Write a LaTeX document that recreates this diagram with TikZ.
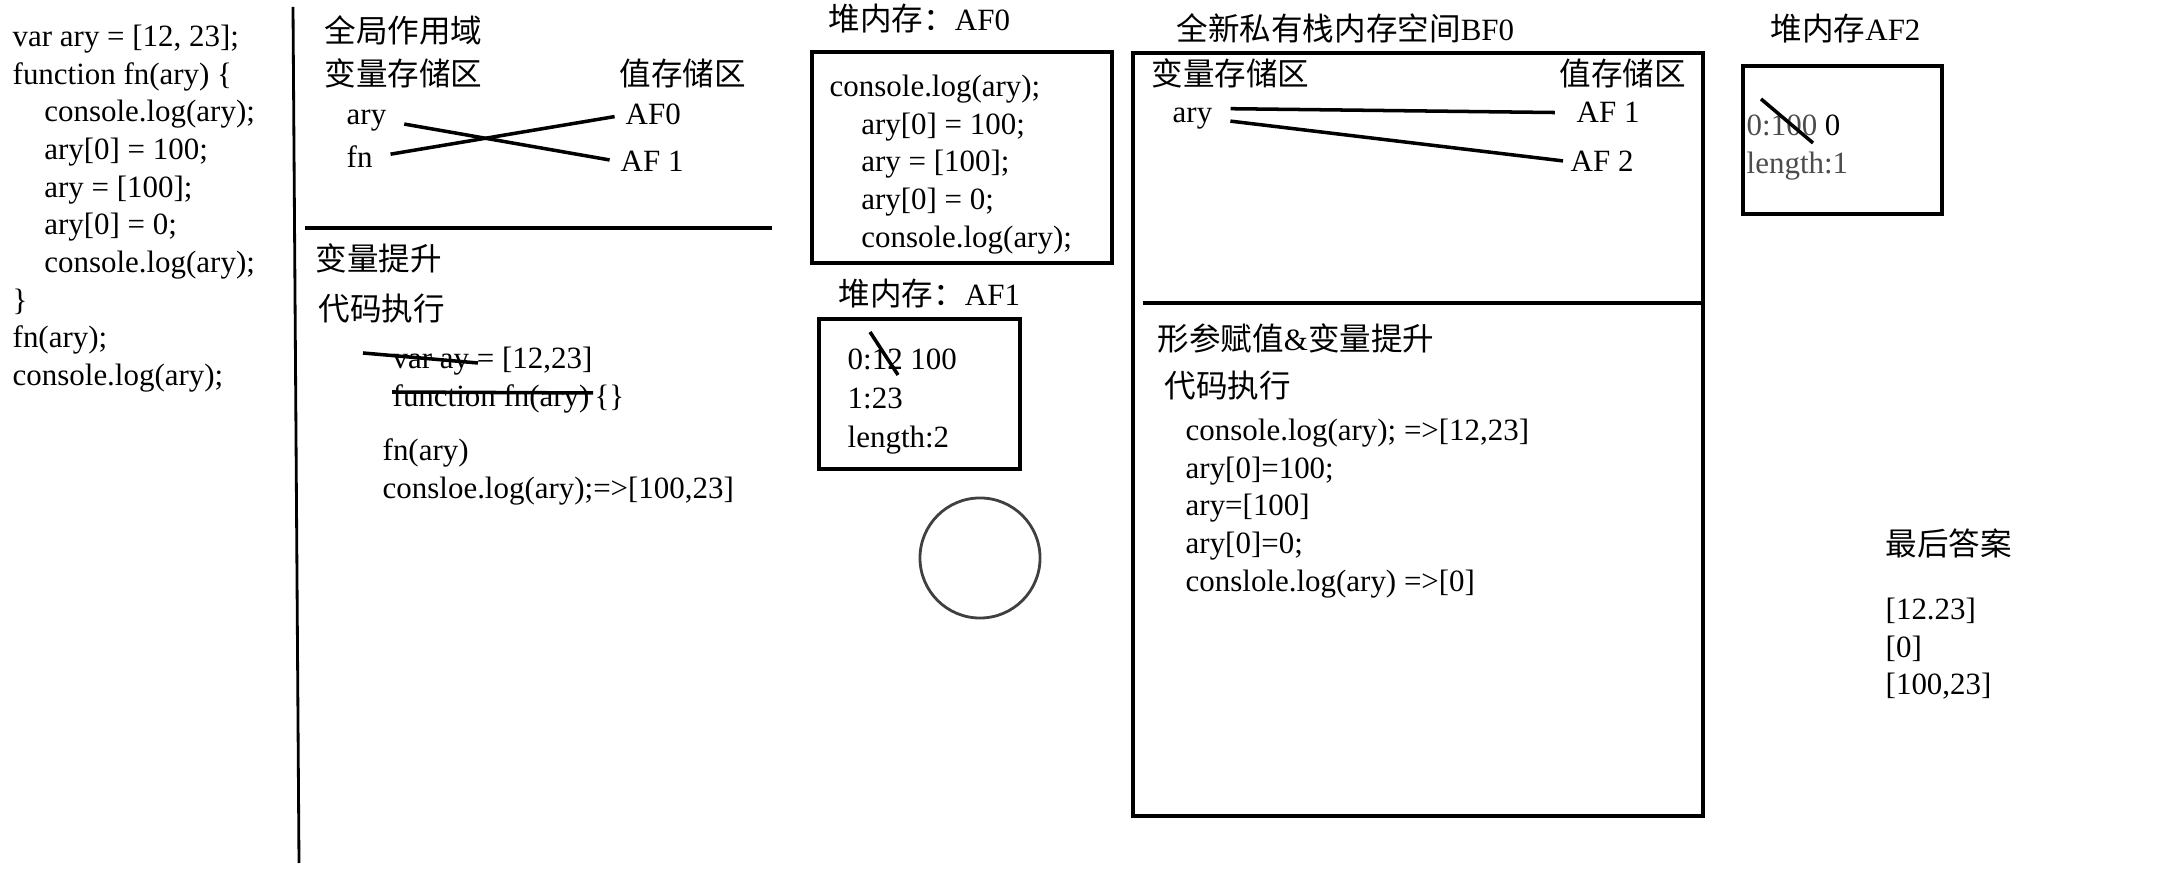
\documentclass[tikz,border=0pt]{standalone}
\usepackage{fontspec}
\setmainfont{Liberation Serif}
\newfontfamily\cjk[Scale=1.02]{Noto Sans CJK SC}
\tikzset{
  txt/.style={inner sep=0pt, anchor=base west},
  code/.style={inner sep=0pt, anchor=north west, align=left},
  box/.style={draw, line width=0.9pt},
  link/.style={line width=1pt, shorten <=5pt, shorten >=3pt},
  cross/.style={line width=1pt},
}
\newcommand{\ind}{\hspace*{9pt}}

\begin{document}
\begin{tikzpicture}[x=0.01cm, y=-0.01cm, font=\fontsize{8.8}{10.7}\selectfont]
\useasboundingbox (0,0) rectangle (2180,874);
% source code
\node[code] (src) at (12,19.7) {\strut var ary = [12, 23];\\function fn(ary) \{\\\ind console.log(ary);\\\ind ary[0] = 100;\\\ind ary = [100];\\\ind ary[0] = 0;\\\ind console.log(ary);\\\}\\fn(ary);\\console.log(ary);};
\draw[line width=0.8pt] (293,7) -- (299,863);

% global scope
\node[txt] (gscope) at (324,43) {\cjk 全局作用域};
\node[txt] (gvars) at (324,86) {\cjk 变量存储区};
\node[txt] (gvals) at (619,86) {\cjk 值存储区};
\node[txt] (gary) at (346,125) {ary};
\node[txt] (gfn) at (346,168) {fn};
\node[txt] (gaf0) at (625,125) {AF0};
\node[txt] (gaf1) at (620,172) {AF 1};
\draw[link] (gary.east) -- (gaf1.west);
\draw[link] (gfn.east) -- (gaf0.west);
\draw[line width=0.9pt] (305,228) -- (772,228);

\node[txt] (ghoist) at (315,271) {\cjk 变量提升};
\node[txt] (gexec) at (318,321) {\cjk 代码执行};
\node[code] (hoist) at (392,341.7) {\strut var ay = [12,23]\\function fn(ary)\,\{\}};
\node[code] (calls) at (382,433.7) {\strut fn(ary)\\consloe.log(ary);=>[100,23]};
\draw[cross] (363,353) -- (478,363);
\draw[cross] (392,392) -- (593,393);

% heap AF0
\node[txt] (h0title) at (828,31) {{\cjk 堆内存：}AF0};
\draw[box] (812,52) rectangle (1112,263);
\node[code] (h0code) at (829,69.7) {\strut console.log(ary);\\\ind ary[0] = 100;\\\ind ary = [100];\\\ind ary[0] = 0;\\\ind console.log(ary);};

% heap AF1
\node[txt] (h1title) at (838,306) {{\cjk 堆内存：}AF1};
\draw[box] (819,319) rectangle (1020,469);
\node[code, font=\fontsize{8.8}{11.1}\selectfont] (h1code) at (847,341.7) {\strut 0:12 100\\1:23\\length:2};
\draw[cross] (870,332) -- (898,375);
\node[draw=black!75, line width=0.8pt, circle, minimum size=1.2cm, inner sep=0pt] (orb) at (980,558) {};

% private stack BF0
\node[txt] (btitle) at (1176,41) {{\cjk 全新私有栈内存空间}BF0};
\draw[box] (1133,53) rectangle (1703,816);
\draw[box] (1143,303) -- (1703,303);
\node[txt] (bvars) at (1151,86) {\cjk 变量存储区};
\node[txt] (bvals) at (1559,86) {\cjk 值存储区};
\node[txt] (bary) at (1172,123) {ary};
\node[txt] (baf1) at (1576,123) {AF 1};
\node[txt] (baf2) at (1570,172) {AF 2};
\draw[link, shorten >=6pt] ([yshift=3pt]bary.east) -- (baf1.west);
\draw[link, shorten >=2pt] (bary.east) -- (baf2.west);
\node[txt] (bhoist) at (1157,351) {{\cjk 形参赋值}\&{\cjk 变量提升}};
\node[txt] (bexec) at (1164,398) {\cjk 代码执行};
\node[code] (bcode) at (1185,413.7) {\strut console.log(ary); =>[12,23]\\ary[0]=100;\\ary=[100]\\ary[0]=0;\\conslole.log(ary) =>[0]};

% heap AF2
\node[txt] (h2title) at (1770,41) {{\cjk 堆内存}AF2};
\draw[box] (1743,66) rectangle (1942,214);
\node[code, text=black!70] (h2code) at (1746,108.7) {\strut 0:100 {\color{black}0}\\length:1};
\draw[cross] (1761,99) -- (1813,143);

% answer
\node[txt] (ans) at (1885,556) {\cjk 最后答案};
\node[code] (anscode) at (1885,592.7) {\strut [12.23]\\{}[0]\\{}[100,23]};
\end{tikzpicture}
\end{document}
